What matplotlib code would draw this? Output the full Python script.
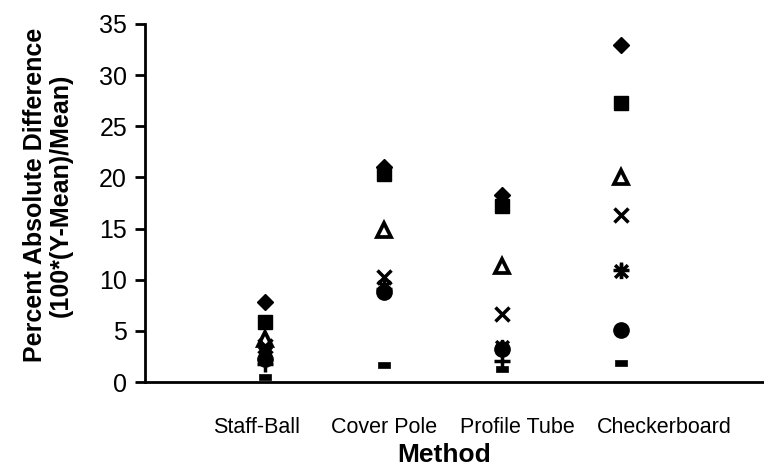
import matplotlib
matplotlib.use("Agg")
import matplotlib.pyplot as plt
from matplotlib.path import Path
import numpy as np

plt.rcParams['font.family'] = ['Liberation Sans', 'DejaVu Sans']

categories = ["Staff-Ball", "Cover Pole", "Profile Tube", "Checkerboard"]
s_diamond  = [7.8, 21.0, 18.3, 32.9]
s_square   = [5.9, 20.3, 17.2, 27.3]
s_triangle = [4.2, 14.9, 11.3, 20.0]
s_x        = [3.5, 10.3, 6.7, 16.3]
s_star     = [2.8, 9.3, 3.4, 10.9]
s_circle   = [2.3, 8.8, 3.2, 5.1]
s_plus     = [1.8, 9.1, 2.1, 11.0]
s_dash     = [0.5, 1.7, 1.3, 1.9]
label_offsets = [-0.07, 0.0, 0.13, 0.37]
yticks = [0, 5, 10, 15, 20, 25, 30, 35]

star_path = Path([(-1, -1), (1, 1), (-1, 1), (1, -1), (0, -1.2), (0, 1.2)],
                 [Path.MOVETO, Path.LINETO, Path.MOVETO, Path.LINETO, Path.MOVETO, Path.LINETO])
dash_path = Path([(-1, -0.45), (1, -0.45), (1, 0.45), (-1, 0.45), (-1, -0.45)],
                 [Path.MOVETO, Path.LINETO, Path.LINETO, Path.LINETO, Path.CLOSEPOLY])

fig = plt.figure(figsize=(7.64, 4.70), dpi=100)
ax = fig.add_axes([0.190, 0.187, 0.810, 0.762])

x = np.arange(1, len(categories) + 1)
k = dict(linestyle='none', color='black', zorder=3, clip_on=False)
ax.plot(x, s_diamond, marker='D', markersize=8.5, mec='black', mfc='black', **k)
ax.plot(x, s_square, marker='s', markersize=9.5, mec='black', mfc='black', **k)
ax.plot(x, s_triangle, marker='^', markersize=9.5, mec='black', mfc='white', mew=2.7, **k)
ax.plot(x, s_x, marker='x', markersize=10, mew=2.5, **k)
ax.plot(x, s_star, marker=star_path, markersize=11, mew=2.5, mfc='none', mec='black', **k)
ax.plot(x, s_circle, marker='o', markersize=11, mec='black', mfc='black', **k)
ax.plot(x, s_plus, marker='+', markersize=11, mew=2.5, **k)
ax.plot(x, s_dash, marker=dash_path, markersize=9, mec='black', mfc='black', mew=0.5, **k)

ax.set_xlim(-0.014, 5.21)
ax.set_ylim(0, 35)
ax.set_yticks(yticks)
ax.set_xticks(x + np.array(label_offsets))
ax.set_xticklabels(categories)

for s in ['top', 'right']:
    ax.spines[s].set_visible(False)
ax.spines['left'].set_linewidth(2)
ax.spines['bottom'].set_linewidth(2)
ax.tick_params(axis='y', direction='out', length=7, width=2, labelsize=18, pad=6)
ax.tick_params(axis='x', length=0, labelsize=15.5, pad=25)

fig.text(0.063, 0.585, "Percent Absolute Difference\n(100*(Y-Mean)/Mean)", rotation=90,
         ha='center', va='center', fontsize=18, fontweight='bold', multialignment='center',
         linespacing=1.1)
fig.text(0.581, 0.032, "Method", ha='center', va='center', fontsize=19, fontweight='bold')

fig.savefig("out.png", dpi=100)
